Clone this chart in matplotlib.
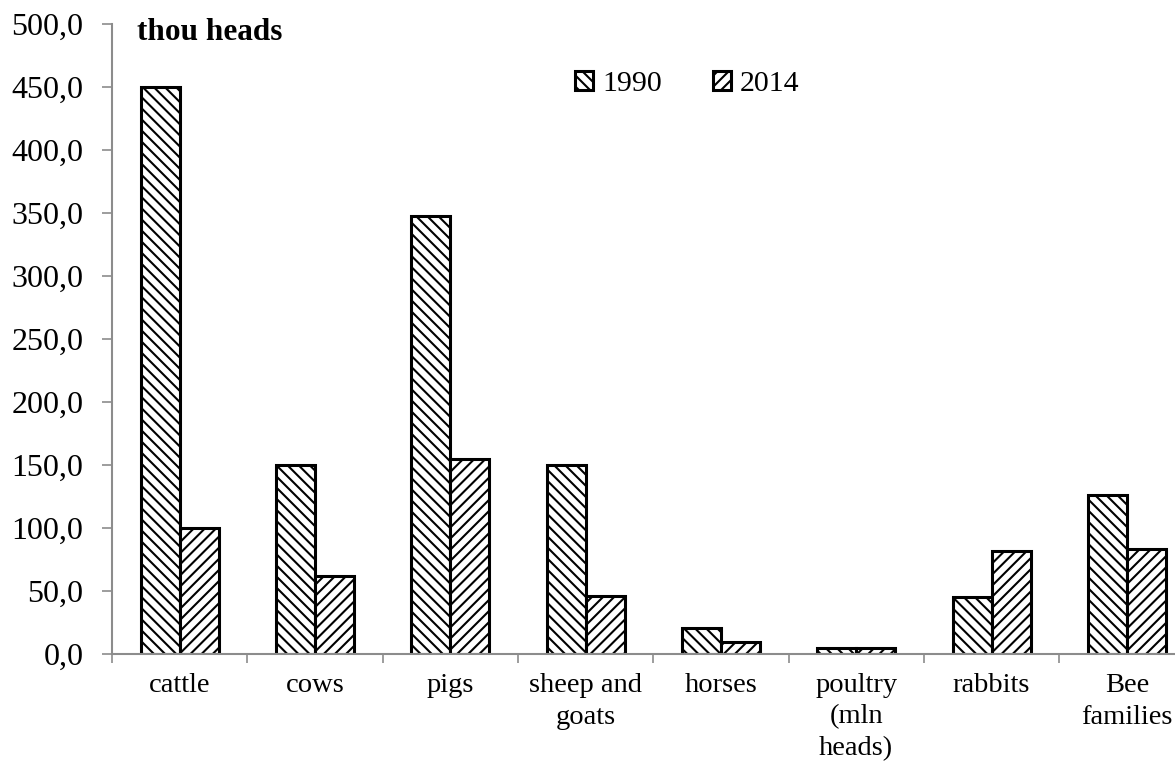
import matplotlib.pyplot as plt
import numpy as np
from matplotlib.ticker import FuncFormatter

categories = ["cattle", "cows", "pigs", "sheep and\ngoats", "horses",
              "poultry\n(mln\nheads)", "rabbits", "Bee\nfamilies"]
values_1990 = [450.0, 150.0, 348.0, 150.0, 20.5, 4.8, 45.0, 126.0]
values_2014 = [100.0, 62.0, 155.0, 46.0, 9.5, 4.5, 82.0, 83.0]
y_ticks = [0, 50, 100, 150, 200, 250, 300, 350, 400, 450, 500]

FONT = ["Liberation Serif", "DejaVu Serif"]
AXIS_GRAY = "#8c8c8c"


def main():
    plt.rcParams["font.family"] = FONT
    plt.rcParams["hatch.linewidth"] = 1.5

    fig = plt.figure(figsize=(11.75, 7.67), dpi=100, facecolor="white")
    ax = fig.add_axes([0.0953, 0.1473, 0.9213, 0.8214])

    x = np.arange(len(categories)) + 0.5
    w = 0.288
    ax.bar(x - w / 2, values_1990, w, facecolor="white", edgecolor="black",
           linewidth=2.2, hatch="\\\\\\", label="1990")
    ax.bar(x + w / 2, values_2014, w, facecolor="white", edgecolor="black",
           linewidth=2.2, hatch="///", label="2014")

    ax.set_xlim(0, len(categories))
    ax.set_ylim(0, 500)

    # y axis
    ax.set_yticks(y_ticks)
    ax.yaxis.set_major_formatter(FuncFormatter(lambda v, p: f"{v:.1f}".replace(".", ",")))
    ax.tick_params(axis="y", direction="out", length=7.5, width=1.2,
                   color=AXIS_GRAY, labelsize=23, pad=13)

    # x axis: ticks at boundaries, labels at centers
    ax.set_xticks(np.arange(len(categories) + 1))
    ax.set_xticklabels([])
    ax.set_xticks(x, minor=True)
    ax.set_xticklabels(categories, minor=True, fontsize=20.5, linespacing=1.32,
                       va="top")
    ax.tick_params(axis="x", which="major", direction="out", length=6.5,
                   width=1.2, color=AXIS_GRAY)
    ax.tick_params(axis="x", which="minor", length=0, pad=14)

    for side in ["top", "right"]:
        ax.spines[side].set_visible(False)
    for side in ["left", "bottom"]:
        ax.spines[side].set_color(AXIS_GRAY)
        ax.spines[side].set_linewidth(1.5)

    fig.text(137 / 1175, 1 - 33 / 767, "thou heads", fontsize=22.5,
             fontweight="bold", va="center", ha="left")

    fig.legend(loc="center", bbox_to_anchor=(0.585, 0.89), ncol=2,
               frameon=False, fontsize=21.5, handlelength=0.6,
               handleheight=0.6, handletextpad=0.3, columnspacing=1.7)

    fig.savefig("out.png", dpi=100, facecolor="white")


if __name__ == "__main__":
    main()
